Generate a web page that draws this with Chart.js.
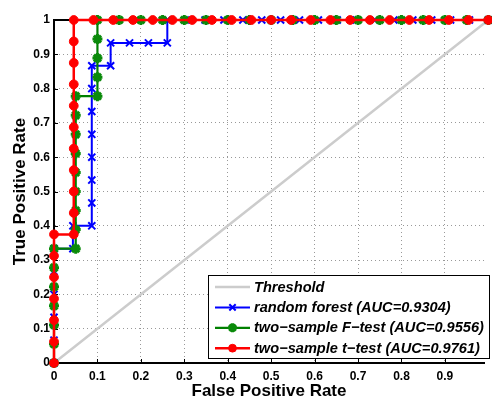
<!DOCTYPE html>
<html>
<head>
<meta charset="utf-8">
<script src="https://cdn.jsdelivr.net/npm/chart.js@4.4.1/dist/chart.umd.min.js"></script>
<style>
  html, body { margin: 0; padding: 0; background: #fff; }
  #wrap { width: 492px; height: 400px; }
</style>
</head>
<body>
<div id="wrap"><canvas id="rocChart" width="492" height="400"></canvas></div>
<script>
// tick labels
const xTicks = [0, 0.1, 0.2, 0.3, 0.4, 0.5, 0.6, 0.7, 0.8, 0.9];
const yTicks = [0, 0.1, 0.2, 0.3, 0.4, 0.5, 0.6, 0.7, 0.8, 0.9, 1];

const seriesNames = [
  "Threshold",
  "random forest (AUC=0.9304)",
  "two\u2212sample F\u2212test (AUC=0.9556)",
  "two\u2212sample t\u2212test (AUC=0.9761)"
];

// diagonal
const thresholdX = [0, 1];
const thresholdY = [0, 1];

// random forest ROC points
const forestX = [0, 0, 0, 0, 0, 0, 0.0435, 0.0435,
  0.087, 0.087, 0.087, 0.087, 0.087, 0.087, 0.087, 0.087,
  0.1304, 0.1304, 0.1739, 0.2174, 0.2609, 0.2609,
  0.3043, 0.3478, 0.3913, 0.4348, 0.4783, 0.5217, 0.5652, 0.6087, 0.6522,
  0.6957, 0.7391, 0.7826, 0.8261, 0.8696, 0.913, 0.9565, 1];
const forestY = [0, 0.0667, 0.1333, 0.2, 0.2667, 0.3333, 0.3333, 0.4,
  0.4, 0.4667, 0.5333, 0.6, 0.6667, 0.7333, 0.8, 0.8667,
  0.8667, 0.9333, 0.9333, 0.9333, 0.9333, 1,
  1, 1, 1, 1, 1, 1, 1, 1, 1,
  1, 1, 1, 1, 1, 1, 1, 1];

// F-test ROC points
const fTestX = [0, 0, 0, 0, 0, 0, 0,
  0.05, 0.05, 0.05, 0.05, 0.05, 0.05, 0.05, 0.05, 0.05,
  0.1, 0.1, 0.1, 0.1, 0.1,
  0.15, 0.2, 0.25, 0.3, 0.35, 0.4, 0.45, 0.5, 0.55,
  0.6, 0.65, 0.7, 0.75, 0.8, 0.85, 0.9, 0.95, 1];
const fTestY = [0, 0.0556, 0.1111, 0.1667, 0.2222, 0.2778, 0.3333,
  0.3333, 0.3889, 0.4444, 0.5, 0.5556, 0.6111, 0.6667, 0.7222, 0.7778,
  0.7778, 0.8333, 0.8889, 0.9444, 1,
  1, 1, 1, 1, 1, 1, 1, 1, 1,
  1, 1, 1, 1, 1, 1, 1, 1, 1];

// t-test ROC points
const tTestX = [0, 0, 0, 0, 0, 0, 0,
  0.0455, 0.0455, 0.0455, 0.0455, 0.0455, 0.0455, 0.0455, 0.0455, 0.0455, 0.0455, 0.0455,
  0.0909, 0.1364, 0.1818, 0.2273, 0.2727, 0.3182, 0.3636, 0.4091, 0.4545, 0.5,
  0.5455, 0.5909, 0.6364, 0.6818, 0.7273, 0.7727, 0.8182, 0.8636, 0.9091, 0.9545, 1];
const tTestY = [0, 0.0625, 0.125, 0.1875, 0.25, 0.3125, 0.375,
  0.375, 0.4375, 0.5, 0.5625, 0.625, 0.6875, 0.75, 0.8125, 0.875, 0.9375, 1,
  1, 1, 1, 1, 1, 1, 1, 1, 1, 1,
  1, 1, 1, 1, 1, 1, 1, 1, 1, 1, 1];

const FONT = "'Liberation Sans', Arial, Helvetica, sans-serif";

function toPoints(xs, ys) {
  return xs.map((x, i) => ({ x: x, y: ys[i] }));
}

// axis box, inward ticks and the legend box inside the plot
const matlabLook = {
  id: "matlabLook",
  beforeDatasetsDraw(chart) {
    const ctx = chart.ctx;
    const area = chart.chartArea;
    const xs = chart.scales.x;
    const ys = chart.scales.y;
    ctx.save();
    ctx.strokeStyle = "#000";
    ctx.lineWidth = 1;
    ctx.beginPath();
    xTicks.forEach((v) => {
      const px = Math.round(xs.getPixelForValue(v)) + 0.5;
      ctx.moveTo(px, area.bottom);
      ctx.lineTo(px, area.bottom - 4);
      ctx.moveTo(px, area.top);
      ctx.lineTo(px, area.top + 4);
    });
    yTicks.forEach((v) => {
      const py = Math.round(ys.getPixelForValue(v)) + 0.5;
      ctx.moveTo(area.left, py);
      ctx.lineTo(area.left + 4, py);
    });
    ctx.stroke();
    ctx.lineWidth = 2;
    ctx.beginPath();
    ctx.moveTo(area.left - 1, area.top);
    ctx.lineTo(area.right, area.top);
    ctx.stroke();
    ctx.restore();
  },
  afterDraw(chart) {
    const ctx = chart.ctx;
    const box = { left: 208, top: 275, right: 489, bottom: 358 };
    ctx.save();
    ctx.fillStyle = "#fff";
    ctx.fillRect(box.left, box.top, box.right - box.left, box.bottom - box.top);
    ctx.strokeStyle = "#000";
    ctx.lineWidth = 1;
    ctx.strokeRect(box.left + 0.5, box.top + 0.5, box.right - box.left, box.bottom - box.top);

    chart.data.datasets.forEach((ds, i) => {
      const y = 287 + i * 20.4;
      ctx.strokeStyle = ds.borderColor;
      ctx.lineWidth = ds.borderWidth;
      ctx.beginPath();
      ctx.moveTo(215, y);
      ctx.lineTo(250, y);
      ctx.stroke();
      if (ds.pointRadius > 0) {
        ctx.fillStyle = ds.pointBackgroundColor;
        ctx.strokeStyle = ds.pointBorderColor;
        ctx.lineWidth = ds.pointBorderWidth;
        Chart.helpers.drawPoint(ctx, {
          pointStyle: ds.pointStyle,
          radius: ds.pointRadius - 0.5,
          borderWidth: ds.pointBorderWidth,
          rotation: 0
        }, 232.5, y);
      }
      ctx.fillStyle = "#000";
      ctx.font = "italic bold 14.6px " + FONT;
      ctx.textBaseline = "middle";
      ctx.textAlign = "left";
      ctx.fillText(ds.label, 254, y + 0.5);
    });
    ctx.restore();
  }
};

new Chart(document.getElementById("rocChart").getContext("2d"), {
  type: "scatter",
  data: {
    datasets: [
      {
        label: seriesNames[0],
        data: toPoints(thresholdX, thresholdY),
        showLine: true,
        borderColor: "#cccccc",
        borderWidth: 2.5,
        pointRadius: 0,
        order: 4
      },
      {
        label: seriesNames[1],
        data: toPoints(forestX, forestY),
        showLine: true,
        borderColor: "#0000ff",
        borderWidth: 2,
        pointStyle: "crossRot",
        pointRadius: 5,
        pointBorderWidth: 2,
        pointBorderColor: "#0000ff",
        pointBackgroundColor: "#0000ff",
        order: 3
      },
      {
        label: seriesNames[2],
        data: toPoints(fTestX, fTestY),
        showLine: true,
        borderColor: "#008000",
        borderWidth: 2.2,
        pointStyle: "star",
        pointRadius: 5,
        pointBorderWidth: 3,
        pointBorderColor: "#0a8a0a",
        pointBackgroundColor: "#0a8a0a",
        order: 2
      },
      {
        label: seriesNames[3],
        data: toPoints(tTestX, tTestY),
        showLine: true,
        borderColor: "#ff0000",
        borderWidth: 2.5,
        pointStyle: "circle",
        pointRadius: 4.4,
        pointBorderWidth: 1,
        pointBorderColor: "#ff0000",
        pointBackgroundColor: "#ff0000",
        order: 1
      }
    ]
  },
  options: {
    responsive: false,
    animation: false,
    clip: false,
    layout: { padding: { top: 20, right: 0, left: 0, bottom: 0 } },
    plugins: {
      legend: { display: false },
      tooltip: { enabled: false }
    },
    elements: { line: { tension: 0 } },
    scales: {
      x: {
        type: "linear",
        min: 0,
        max: 0.99,
        afterBuildTicks: (scale) => { scale.ticks = xTicks.map((v) => ({ value: v })); },
        afterFit: (scale) => { scale.height = 37; },
        ticks: {
          padding: 6,
          color: "#000",
          font: { family: FONT, size: 12, weight: "bold" },
          callback: (v) => String(v)
        },
        grid: { color: "#999999", lineWidth: 1, drawTicks: false },
        border: { color: "#000", width: 2, dash: [1, 3] },
        title: {
          display: true,
          text: "False Positive Rate",
          color: "#000",
          font: { family: FONT, size: 17, weight: "bold", lineHeight: 1 },
          padding: 0
        }
      },
      y: {
        type: "linear",
        min: 0,
        max: 1,
        afterBuildTicks: (scale) => { scale.ticks = yTicks.map((v) => ({ value: v })); },
        afterFit: (scale) => { scale.width = 54; },
        ticks: {
          padding: 4,
          color: "#000",
          font: { family: FONT, size: 12, weight: "bold" },
          callback: (v) => String(v)
        },
        grid: { color: "#999999", lineWidth: 1, drawTicks: false },
        border: { color: "#000", width: 2, dash: [1, 3] },
        title: {
          display: true,
          text: "True Positive Rate",
          color: "#000",
          font: { family: FONT, size: 17, weight: "bold", lineHeight: 1 },
          padding: { top: 12, bottom: 0 }
        }
      }
    }
  },
  plugins: [matlabLook]
});
</script>
</body>
</html>
